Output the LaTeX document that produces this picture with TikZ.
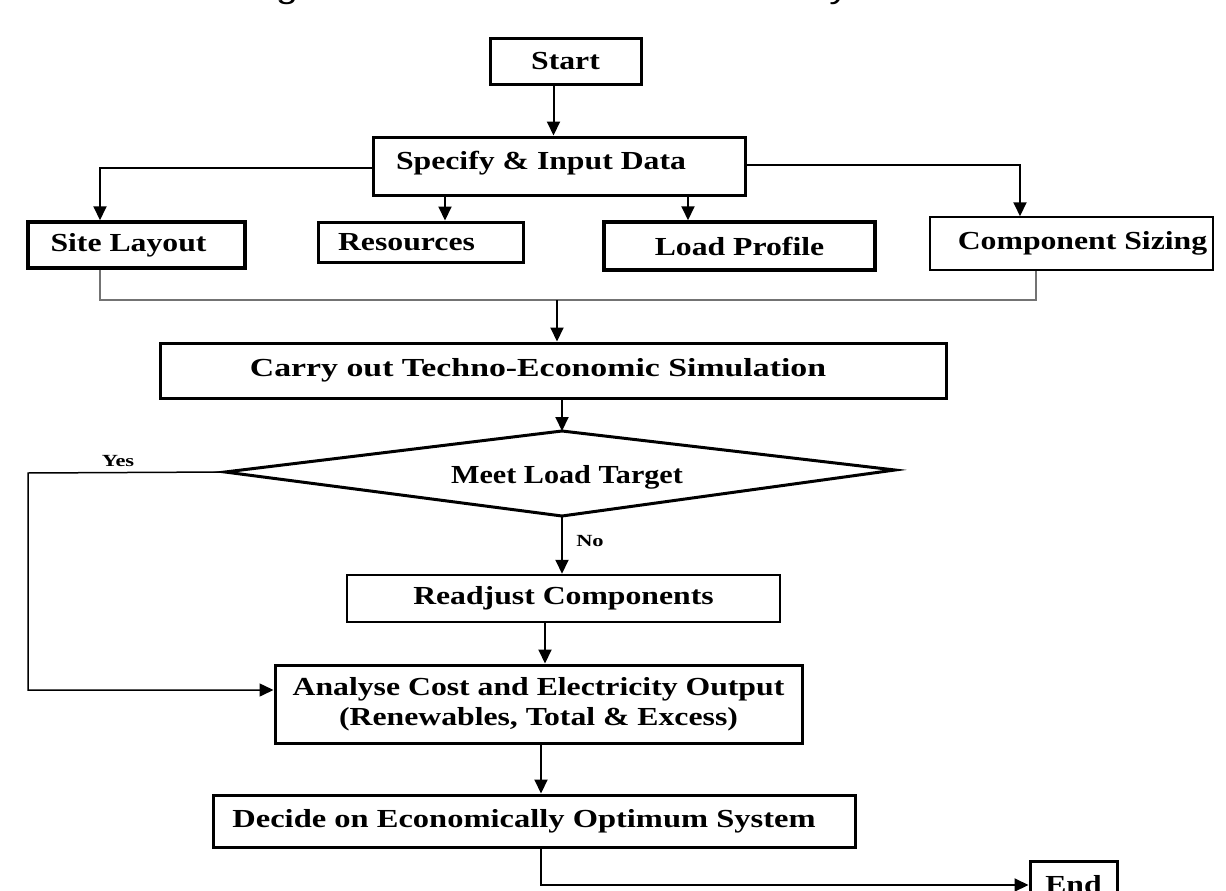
\documentclass[tikz,border=0pt]{standalone}
\usepackage{fontspec}
\setmainfont{Liberation Serif}
\setsansfont{Liberation Sans}
\usepackage{graphicx}
\usetikzlibrary{arrows.meta,calc}
\newcommand{\sx}[2][1.22]{\scalebox{#1}[1]{#2}}
\begin{document}
\begin{tikzpicture}[x=1pt,y=-1pt,
  box/.style={draw, line width=3pt, rectangle, inner sep=0pt,
    font=\fontsize{26}{30}\selectfont\bfseries},
  arr/.style={line width=2pt, -{Triangle[length=14pt,width=13pt]}},
  thin/.style={line width=1.3pt, draw=black!55},
  lbl/.style={font=\fontsize{17}{20}\selectfont\bfseries, inner sep=0pt}]
\path[use as bounding box] (0,0) rectangle (1226,891);
\clip (0,0) rectangle (1226,891);
\fill[white] (0,0) rectangle (1226,891);

% cut-off title fragments
\node[font=\sffamily\fontsize{30}{30}\selectfont, anchor=base, inner sep=0pt] (tg) at (287,-1) {\sx[1.3]{g}};
\node[font=\sffamily\fontsize{30}{30}\selectfont, anchor=base, inner sep=0pt] (ty) at (839,-1) {\sx[1.3]{y}};

% boxes
\node[box, minimum width=151, minimum height=45] (start) at (565.5,61.5) {\sx{Start}};
\node[box, minimum width=372, minimum height=58] (spec) at (559,166) {\raisebox{12pt}{\sx{Specify \& Input Data}\kern36pt}};
\node[box, line width=3.5pt, minimum width=217, minimum height=46] (site) at (136.5,245) {\sx{Site Layout}\kern16pt};
\node[box, minimum width=205, minimum height=40] (res) at (420.5,242) {\raisebox{-4pt}{\sx{Resources}\kern28pt}};
\node[box, line width=3.5pt, minimum width=271, minimum height=48] (load) at (739.5,246) {\sx{Load Profile}};
\node[box, line width=1.5pt, minimum width=283, minimum height=53] (comp) at (1071.5,243.5) {\kern22pt\sx{Component Sizing}};
\node[box, minimum width=786, minimum height=55] (carry) at (553,370.5) {\sx[1.3]{Carry out Techno-Economic Simulation}\kern30pt};

% decision diamond
\coordinate (mt) at (562,431);
\coordinate (mr) at (895,470);
\coordinate (mb) at (562,516);
\coordinate (ml) at (225,472);
\draw[line width=3pt] (mt) -- (mr) -- (mb) -- (ml) -- cycle;
\node[font=\fontsize{26}{30}\selectfont\bfseries, inner sep=0pt] (meet) at (567,477) {\sx[1.16]{Meet Load Target}};

\node[box, line width=2.5pt, minimum width=433, minimum height=47] (readj) at (563.5,598.5) {\sx{Readjust Components}};
\node[box, align=center, minimum width=527, minimum height=78] (ana) at (538.5,704) {\sx{Analyse Cost and Electricity Output}\\\sx{(Renewables, Total \& Excess)}};
\node[box, minimum width=642, minimum height=52] (decide) at (534,821) {\sx[1.25]{Decide on Economically Optimum System}\kern20pt};
\node[box, minimum width=87, minimum height=48] (end) at (1073.5,885) {\sx{End}};

% connectors
\draw[arr] ([xshift=-12pt]start.south) -- ([xshift=-12pt]start.south |- spec.north);
\draw[arr] ([yshift=-2pt]spec.west) -| ([xshift=-36.5pt]site.north);
\draw[arr] ([yshift=1pt]spec.east) -| ([xshift=-51.5pt]comp.north);
\draw[arr] ([xshift=24.5pt]res.north |- spec.south) -- ([xshift=24.5pt]res.north);
\draw[arr] ([xshift=-51.5pt]load.north |- spec.south) -- ([xshift=-51.5pt]load.north);

\coordinate (join) at (557,300);
\draw[thin] ([xshift=-36.5pt]site.south) |- (join) -| ([xshift=-35.5pt]comp.south);
\draw[arr] (join) -- (join |- carry.north);

\draw[arr] (carry.south -| mt) -- (mt);
\draw[arr] (mb) -- (mb |- readj.north);
\node[lbl] (no) at (590,541) {\sx[1.32]{No}};

\coordinate (yc) at (28,473);
\draw[arr, line width=1.5pt] (ml) -- (yc) |- ([yshift=14pt]ana.west);
\node[lbl] (yes) at (118,461) {\sx[1.32]{Yes}};

\draw[arr] ([xshift=-18.5pt]readj.south) -- ([xshift=-18.5pt]readj.south |- ana.north);
\draw[arr] ([xshift=2.5pt]ana.south) -- ([xshift=2.5pt]ana.south |- decide.north);
\draw[arr] ([xshift=7pt]decide.south) |- (end.west);
\end{tikzpicture}
\end{document}
